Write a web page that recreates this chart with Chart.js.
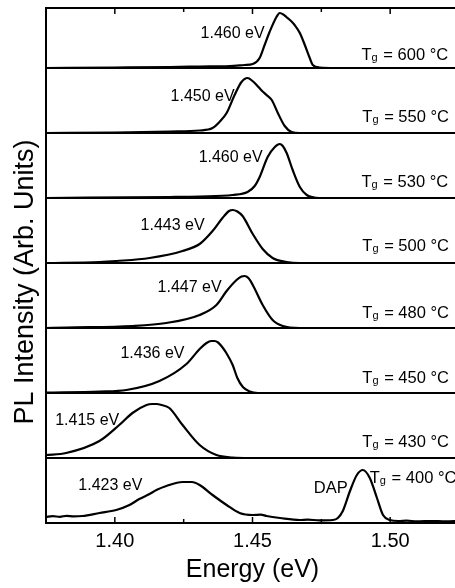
<!DOCTYPE html>
<html><head><meta charset="utf-8">
<script src="https://cdn.jsdelivr.net/npm/chart.js"></script>
<style>html,body{margin:0;padding:0;overflow:hidden;background:#fff;width:455px;height:588px}</style>
</head><body>
<canvas id="c" width="470" height="588" style="width:470px;height:588px;display:block"></canvas>
<script>
// ---- data ----
const growthTemps = [400, 430, 450, 480, 500, 530, 550, 600];
const peakLabels = ['1.423 eV', '1.415 eV', '1.436 eV', '1.447 eV', '1.443 eV', '1.460 eV', '1.450 eV', '1.460 eV'];
const xTickValues = [1.40, 1.45, 1.50];
const xMinorTicks = [1.425, 1.475];

const e400 = [1.375,1.3775,1.380,1.3825,1.385,1.3882,1.3944,1.4005,1.4053,1.4089,1.4126,1.4151,1.4187,1.4246,1.4280,1.4308,1.4355,1.4406,1.4453,1.4501,1.4530,1.4551,1.4600,1.4672,1.4700,1.4744,1.4792,1.4810,1.4828,1.4854,1.4879,1.4901,1.4926,1.4952,1.4974,1.4999,1.5030,1.5060,1.5097,1.5150,1.5200,1.525];
const i400 = [6,6.8,6.2,7.2,6.6,7,10,13,18,24,29,33,37,41,41,38,28,18,10,8,8.3,7,5,3,3.4,2.6,3,5,12,32,48,53,45,25,8,3,2,2.4,1.6,2,1.6,2];

const e430 = [1.375,1.3823,1.3944,1.4016,1.4064,1.4115,1.4135,1.4151,1.4170,1.4198,1.4246,1.4308,1.4369,1.4428,1.4490,1.525];
const i430 = [3,5,17,33,45,53,54,54,53,50,33,13,3,0.5,0,0];

const e450 = [1.375,1.3944,1.4042,1.4162,1.4260,1.4308,1.4333,1.4350,1.4362,1.4375,1.4387,1.4405,1.4428,1.4445,1.4465,1.4490,1.4520,1.525];
const i450 = [0.5,1.5,3,12,29,44,50,52,52,50.5,47,40,28,15,6,1.5,0,0];

const e480 = [1.375,1.3823,1.4064,1.4187,1.4308,1.4369,1.4406,1.4442,1.4460,1.4471,1.4485,1.4501,1.4537,1.4573,1.4610,1.4672,1.525];
const i480 = [0,0.5,2,5,13,23,37,48,51.5,52,50,43,23,8,2,0,0];

const e500 = [1.375,1.3944,1.4005,1.4126,1.4246,1.4308,1.4355,1.4391,1.4415,1.4428,1.4445,1.4464,1.4501,1.4537,1.4573,1.4624,1.4672,1.525];
const i500 = [0,1,2,5,12,19,32,45,52,53,51.5,47,29,14,5,1,0,0];

const e530 = [1.375,1.42,1.4308,1.4428,1.4482,1.4508,1.4526,1.4555,1.4581,1.4599,1.4610,1.4624,1.4646,1.4672,1.4697,1.4744,1.525];
const i530 = [0,1,1.5,3,6,12,21,41,51,54,52,45,28,11,3,0,0];

const e550 = [1.375,1.40,1.42,1.4308,1.4355,1.4380,1.4406,1.4435,1.4460,1.4482,1.4500,1.4515,1.4535,1.4551,1.4570,1.4592,1.4617,1.4642,1.4672,1.525];
const i550 = [0,0.5,1.5,2.5,5,11,20,38,51,55,52,48,42,38,33,20,7,1,0,0];

const e600 = [1.375,1.40,1.42,1.4308,1.4417,1.4471,1.4501,1.4526,1.4544,1.4562,1.4587,1.4599,1.4612,1.4623,1.4640,1.4653,1.4672,1.4690,1.4708,1.4719,1.4744,1.48,1.525];
const i600 = [0,0.5,1,1.5,2,3,4,10,23,36,51,55,53.5,51,47,43,35,23,10,3,0.5,0,0];

// ---- layout config (positions of annotation text, in data units) ----
const PANEL = 65;          // vertical offset between stacked spectra (arb. units)
const Y_MAX = 515;
const peakLabelAnchors = [[1.4100,37],[1.4016,37],[1.4253,39],[1.4388,40],[1.4326,37],[1.4537,40],[1.4435,36],[1.4544,34]]; // right end
const tgLabelAnchors = [[1.4926,45],[1.4899,16],[1.4899,15],[1.4899,15],[1.4899,17],[1.4896,16],[1.4899,16],[1.4896,13]]; // left start
const dapAnchor = [1.4846, 35];

const FONT = '"Liberation Sans", Arial, Helvetica, sans-serif';
const energies = [e400,e430,e450,e480,e500,e530,e550,e600];
const intens = [i400,i430,i450,i480,i500,i530,i550,i600];
const panelLines = growthTemps.map((t,k)=>k*PANEL);

const datasets = growthTemps.map((t,k)=>({
  label: 'Tg = ' + t + ' °C',
  data: energies[k].map((x,j)=>({x:x, y:k*PANEL + intens[k][j]})),
  borderColor:'#000', borderWidth:2.2, pointRadius:0, fill:false,
  cubicInterpolationMode:'monotone', clip:false
}));

const decor = {
  id:'decor',
  afterDraw(chart){
    const ctx = chart.ctx, xs = chart.scales.x, ys = chart.scales.y, a = chart.chartArea;
    ctx.save();
    ctx.strokeStyle = '#000'; ctx.lineWidth = 2;
    // top frame
    ctx.beginPath(); ctx.moveTo(a.left-1, ys.getPixelForValue(Y_MAX)); ctx.lineTo(a.right+1, ys.getPixelForValue(Y_MAX)); ctx.stroke();
    // inward ticks
    ctx.lineWidth = 1.5;
    const drawTick = (v,len)=>{
      const px = xs.getPixelForValue(v);
      ctx.beginPath(); ctx.moveTo(px, a.top); ctx.lineTo(px, a.top+len); ctx.stroke();
      ctx.beginPath(); ctx.moveTo(px, a.bottom); ctx.lineTo(px, a.bottom-len); ctx.stroke();
    };
    xTickValues.forEach(v=>drawTick(v,6));
    xMinorTicks.forEach(v=>drawTick(v,4));
    // peak labels
    ctx.fillStyle = '#000';
    ctx.textBaseline = 'middle';
    ctx.font = '16px ' + FONT;
    ctx.textAlign = 'right';
    peakLabels.forEach((s,k)=>{
      const [e,h] = peakLabelAnchors[k];
      ctx.fillText(s, xs.getPixelForValue(e), ys.getPixelForValue(k*PANEL+h));
    });
    ctx.font = '16.5px ' + FONT;
    ctx.fillText('DAP', xs.getPixelForValue(dapAnchor[0]), ys.getPixelForValue(dapAnchor[1]));
    // growth temperature labels
    ctx.textAlign = 'left';
    growthTemps.forEach((t,k)=>{
      const [e,h] = tgLabelAnchors[k];
      let x = xs.getPixelForValue(e); const y = ys.getPixelForValue(k*PANEL+h);
      ctx.font = '16.5px ' + FONT; ctx.fillText('T', x, y); x += ctx.measureText('T').width;
      ctx.font = '11px ' + FONT; ctx.fillText('g', x, y+2.5); x += ctx.measureText('g').width + 1;
      ctx.font = '16.5px ' + FONT; ctx.fillText(' = ' + t + ' °C', x, y);
    });
    // y title
    ctx.translate(26, (a.top + a.bottom)/2 + 16.5);
    ctx.rotate(-Math.PI/2);
    ctx.textAlign = 'center';
    ctx.font = '27px ' + FONT;
    ctx.fillText('PL Intensity (Arb. Units)', 0, 0);
    ctx.restore();
  }
};

new Chart(document.getElementById('c'), {
  type:'line',
  data:{datasets},
  options:{
    responsive:false, animation:false,
    layout:{padding:{top:8,right:11,left:0,bottom:0}},
    plugins:{legend:{display:false}, tooltip:{enabled:false}},
    scales:{
      x:{type:'linear', min:1.375, max:1.525,
        afterBuildTicks:s=>{s.ticks = xTickValues.map(v=>({value:v}));},
        ticks:{callback:v=>Number(v).toFixed(2), font:{family:FONT,size:20}, color:'#000', padding:6, maxRotation:0, autoSkip:false},
        grid:{display:false, drawTicks:false},
        border:{display:true, color:'#000', width:2},
        title:{display:true, text:'Energy (eV)', color:'#000', font:{family:FONT,size:25,lineHeight:1}, padding:{top:0,bottom:5.5}},
        afterFit:s=>{s.height = 65;}
      },
      y:{type:'linear', min:0, max:Y_MAX,
        afterBuildTicks:s=>{s.ticks = panelLines.map(v=>({value:v}));},
        ticks:{display:false},
        grid:{color:'#000', lineWidth:2, drawTicks:false},
        border:{display:true, color:'#000', width:2},
        afterFit:s=>{s.width = 46;}
      }
    }
  },
  plugins:[decor]
});
</script></body></html>
